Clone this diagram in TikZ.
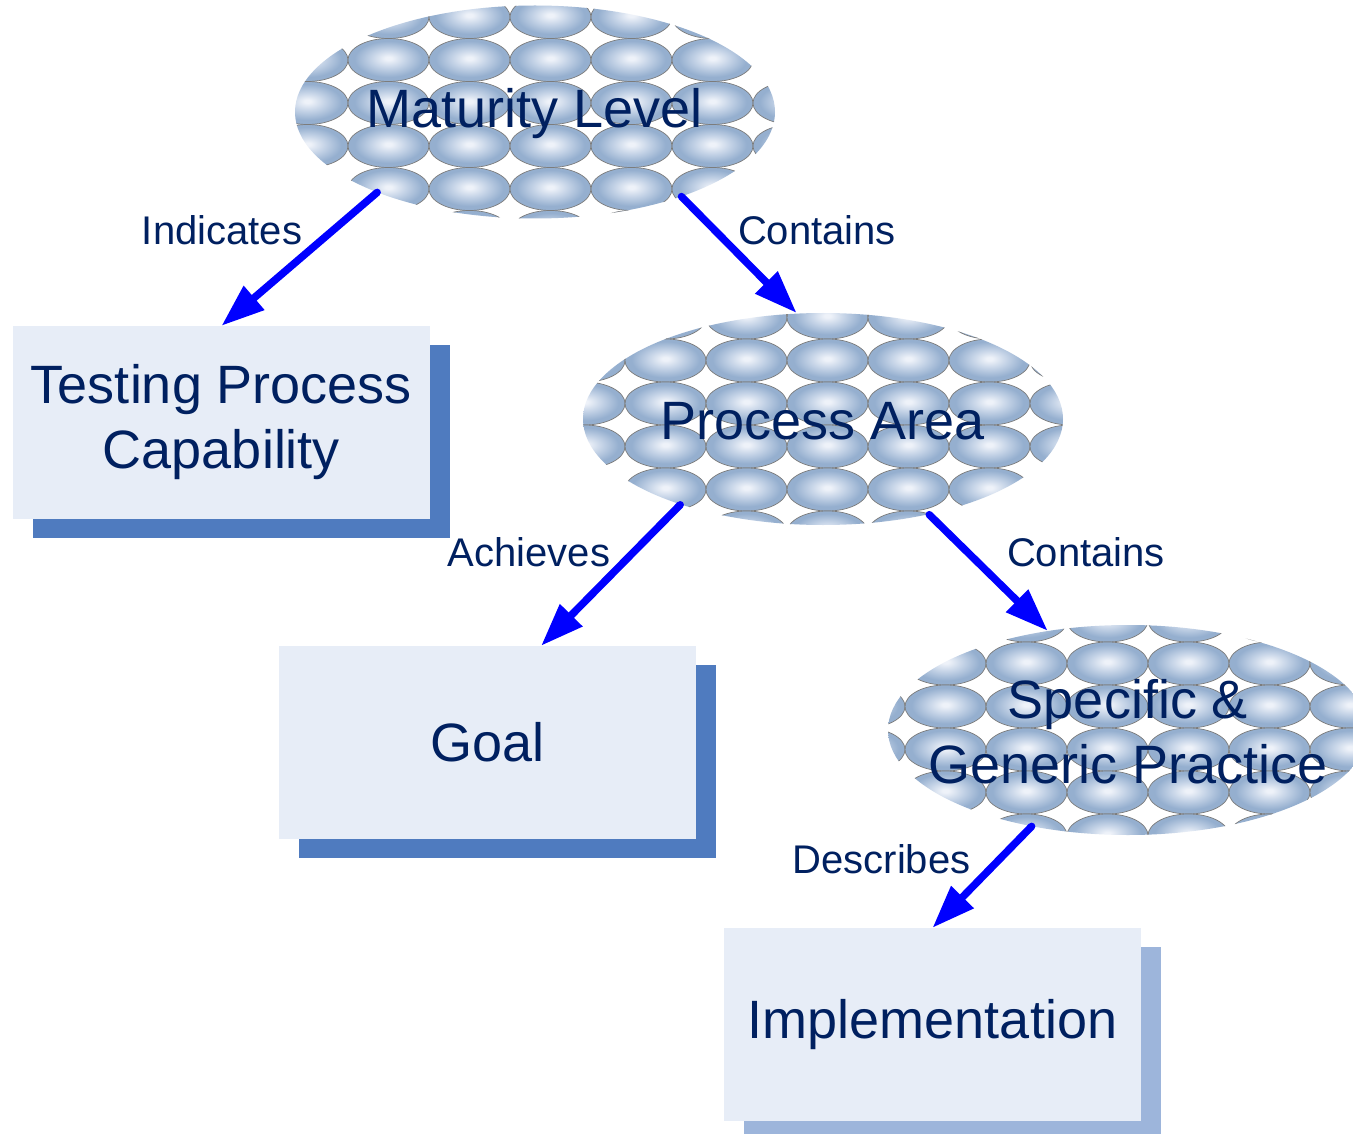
\documentclass[tikz,border=0pt]{standalone}
\usepackage{fontspec}
\setmainfont{Liberation Sans}
\usetikzlibrary{shapes.geometric,arrows.meta,shadows}
\definecolor{tilein}{HTML}{EEF2F9}
\definecolor{tilemid}{HTML}{C3D2E6}
\definecolor{tileout}{HTML}{95AFCF}
\definecolor{tileline}{HTML}{7C7C7C}
\definecolor{navy}{HTML}{002060}
\definecolor{boxfill}{HTML}{E7EDF7}
\definecolor{shadowA}{HTML}{4F7BBF}
\definecolor{shadowB}{HTML}{9DB5DB}
\definecolor{arrowblue}{HTML}{0000FF}
\pgfdeclareradialshading{tileshade}{\pgfpoint{0bp}{2bp}}{color(0bp)=(tilein); color(2bp)=(tilein); color(11bp)=(tilemid); color(21bp)=(tileout); color(25bp)=(tileout); color(50bp)=(tileout)}
\newcommand{\tilegrid}[2]{%
  \foreach \i in {0,...,6}{\foreach \j in {0,...,5}{%
    \path[tile] ({#1+81*\i},{#2+43*\j}) ellipse [x radius=40.5, y radius=21.5];
  }}}
\begin{document}
\begin{tikzpicture}[x=1pt,y=-1pt,
  tile/.style={draw=tileline, line width=0.7pt, shade, shading=tileshade},
  bigtext/.style={text=navy, font=\fontsize{54}{65}\selectfont, align=center, inner sep=0, yshift=-2pt},
  lbl/.style={text=navy, font=\fontsize{40}{48}\selectfont, inner sep=0, anchor=base},
  bigell/.style={shape=ellipse, minimum width=480pt, minimum height=213pt, inner sep=0},
  boxA/.style={rectangle, fill=boxfill, minimum width=417pt, minimum height=193pt, inner sep=0,
    text=navy, font=\fontsize{54}{65}\selectfont, align=center,
    general shadow={fill=shadowA, shadow xshift=19.5pt, shadow yshift=-19pt}},
  boxB/.style={boxA, general shadow={fill=shadowB, shadow xshift=19.5pt, shadow yshift=-19pt}},
  conn/.style={draw=arrowblue, line width=7.5pt, line cap=round, -{Triangle[length=43pt,width=30pt]}}
]
\useasboundingbox[fill=white] (0,0) rectangle (1353,1134);
% tile fills of the three ellipses
\begin{scope}
  \clip (535,112) ellipse [x radius=240, y radius=106.5];
  \tilegrid{307.5}{17}
\end{scope}
\begin{scope}
  \clip (823,419) ellipse [x radius=240, y radius=106];
  \tilegrid{584.5}{317.5}
\end{scope}
\begin{scope}
  \clip (1128,730) ellipse [x radius=240, y radius=105];
  \tilegrid{864.5}{620.5}
\end{scope}
% nodes
\node[bigell, label={[bigtext]center:Maturity Level}] (ml) at (535,112) {};
\node[bigell, label={[bigtext]center:Process Area}] (pa) at (823,419) {};
\node[bigell, minimum height=210pt, label={[bigtext]center:Specific \&\\Generic Practice}] (sgp) at (1128,730) {};
\node[boxA] (tpc) at (221.5,422.5) {Testing Process\\Capability};
\node[boxA] (goal) at (487.5,742.5) {Goal};
\node[boxB] (impl) at (932.5,1024.5) {Implementation};
% connectors
\draw[conn] (ml.207.8) -- (tpc.north);
\draw[conn] (ml.-30.6) -- (pa.104.9);
\draw[conn] (pa.211.3) -- (goal.61);
\draw[conn] (pa.-42.4) -- (sgp.129.7);
\draw[conn] (sgp.225.9) -- (impl.north);
% labels
\node[lbl] (l1) at (222,245) {Indicates};
\node[lbl] (l2) at (817,245) {Contains};
\node[lbl] (l3) at (529,566) {Achieves};
\node[lbl] (l4) at (1086,566) {Contains};
\node[lbl] (l5) at (881.5,873) {Describes};
\end{tikzpicture}
\end{document}
